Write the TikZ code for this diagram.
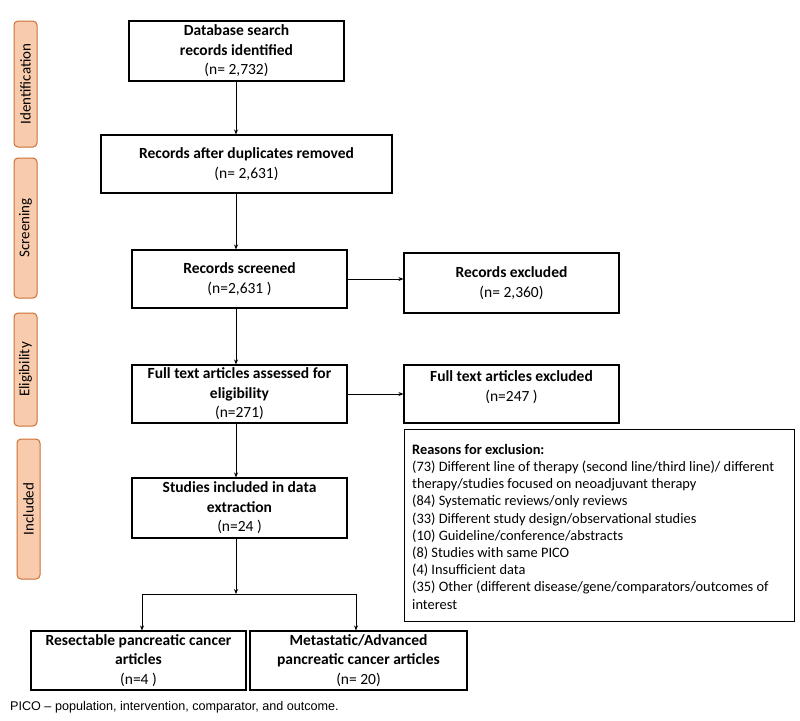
\documentclass[tikz,border=0pt]{standalone}
\usepackage{fontspec}
\setmainfont{Carlito}
\newfontfamily\footfont{Liberation Sans}
\usetikzlibrary{arrows.meta}
\definecolor{phasefill}{RGB}{248,203,173}
\definecolor{phasedraw}{RGB}{204,112,52}
\tikzset{
  box/.style={draw=black, line width=1.1pt, fill=white, align=center, inner sep=2pt,
    font=\fontsize{15.5}{19.5}\selectfont},
  txt/.style={align=center, inner sep=0pt, font=\fontsize{15.5}{19.5}\selectfont},
  phase/.style={draw=phasedraw, line width=1pt, fill=phasefill, rounded corners=4pt,
    rotate=90, align=center, inner sep=0pt, font=\fontsize{15}{18}\selectfont},
  arr/.style={line width=0.9pt, -{Stealth[length=5pt,width=4pt]}},
  ln/.style={line width=0.9pt}
}
\begin{document}
\begin{tikzpicture}[x=1pt,y=-1pt]
\useasboundingbox (0,0) rectangle (800,720);
% phase labels
\node[phase, minimum width=126pt, minimum height=23pt] (pid) at (25.5,84) {Identification};
\node[phase, minimum width=140pt, minimum height=23pt] (psc) at (25.5,228) {Screening};
\node[phase, minimum width=113pt, minimum height=23pt] (pel) at (25.5,369.5) {Eligibility};
\node[phase, minimum width=140pt, minimum height=23pt] (pin) at (28.5,509) {Included};
% main boxes
\node[box, minimum width=215pt, minimum height=60pt] (b1) at (236.5,51)
  {\textbf{Database search}\\\textbf{records identified}\\(n= 2,732)};
\node[box, minimum width=291pt, minimum height=58pt] (b2) at (246.5,164)
  {\textbf{Records after duplicates removed}\\(n= 2,631)};
\node[box, minimum width=215pt, minimum height=58pt] (b3) at (239.5,279)
  {\textbf{Records screened}\\(n=2,631 )};
\node[box, minimum width=215pt, minimum height=58pt] (b4) at (239.5,394)
  {\textbf{Full text articles assessed for}\\\textbf{eligibility}\\(n=271)};
\node[box, minimum width=215pt, minimum height=60pt] (b5) at (239.5,508)
  {\textbf{Studies included in data}\\\textbf{extraction}\\(n=24 )};
\node[box, minimum width=215pt, minimum height=60pt] (rx) at (511.5,283)
  {\textbf{Records excluded}\\(n= 2,360)};
\node[box, minimum width=215pt, minimum height=58pt] (fx) at (511.5,394) {};
\node[txt, anchor=north] (fxt) at ([yshift=-6pt]fx.north)
  {\textbf{Full text articles excluded}\\(n=247 )};
\node[box, minimum width=390pt, minimum height=192pt, anchor=north west] (rs) at (404,429) {};
\node[align=left, anchor=north west, inner sep=0pt,
  font=\fontsize{14.4}{17.2}\selectfont] (rst) at (412,444)
  {\textbf{Reasons for exclusion:}\\
   (73) Different line of therapy (second line/third line)/ different\\
   therapy/studies focused on neoadjuvant therapy\\
   (84) Systematic reviews/only reviews\\
   (33) Different study design/observational studies\\
   (10) Guideline/conference/abstracts\\
   (8) Studies with same PICO\\
   (4) Insufficient data\\
   (35) Other (different disease/gene/comparators/outcomes of\\
   interest};
\node[box, minimum width=215pt, minimum height=59pt] (re) at (138.5,660.5)
  {\textbf{Resectable pancreatic cancer}\\\textbf{articles}\\(n=4 )};
\node[box, minimum width=217pt, minimum height=59pt] (me) at (358.5,660.5)
  {\textbf{Metastatic/Advanced}\\\textbf{pancreatic cancer articles}\\(n= 20)};
% footnote
\node[anchor=west, inner sep=0pt, font=\footfont\fontsize{12.6}{14}\selectfont] (fn) at (10,707)
  {PICO – population, intervention, comparator, and outcome.};
% connectors
\coordinate (sp) at (236,0);
\coordinate (j) at (236,594);
\coordinate (jl) at (142,594);
\coordinate (jr) at (356,594);
\draw[arr] (b1.south -| sp) -- (b2.north -| sp);
\draw[arr] (b2.south -| sp) -- (b3.north -| sp);
\draw[arr] (b3.south -| sp) -- (b4.north -| sp);
\draw[arr] (b4.south -| sp) -- (b5.north -| sp);
\draw[arr] (b3.east) -- (rx.west |- b3.east);
\draw[arr] (b4.east) -- (fx.west |- b4.east);
\draw[arr] (b5.south -| sp) -- (j);
\draw[ln] (jl) -- (jr);
\draw[arr] (jl) -- (re.north -| jl);
\draw[arr] (jr) -- (me.north -| jr);
\end{tikzpicture}
\end{document}
